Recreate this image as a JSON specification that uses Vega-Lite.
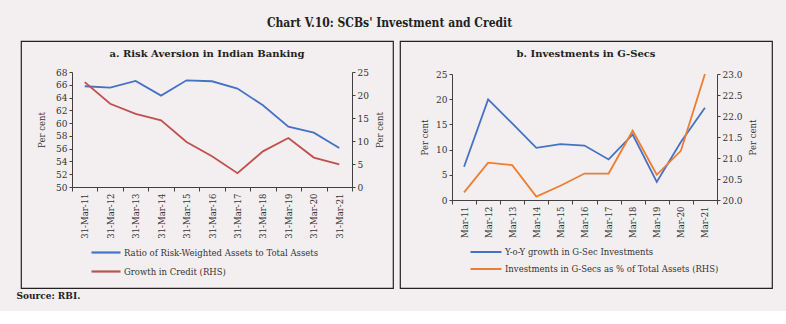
{
  "$schema": "https://vega.github.io/schema/vega-lite/v6.json",
  "background": "#f3eff0",
  "padding": {"left": 16, "right": 15, "top": 17, "bottom": 10},
  "title": {"text": "Chart V.10: SCBs' Investment and Credit", "font": "DejaVu Serif Condensed", "fontSize": 12, "fontWeight": "bold", "color": "#222222", "anchor": "middle", "offset": 10, "dx": -5},
  "bounds": "flush",
  "vconcat": [
    {
      "title": {"text": "Source: RBI.", "orient": "bottom", "anchor": "start", "font": "DejaVu Serif", "fontSize": 9, "fontWeight": "bold", "color": "#222222", "offset": 3},
      "spacing": 7,
      "bounds": "flush",
      "resolve": {"scale": {"color": "independent"}, "legend": {"color": "independent"}},
      "hconcat": [
        {
          "width": 372,
          "height": 247,
          "title": {"text": "a. Risk Aversion in Indian Banking", "font": "DejaVu Serif", "fontSize": 10, "fontWeight": "bold", "color": "#222222", "anchor": "middle", "offset": -18},
          "data": {"values": [
            {"date": "31-Mar-11", "rwa": 65.77, "credit": 22.8},
            {"date": "31-Mar-12", "rwa": 65.56, "credit": 18.1},
            {"date": "31-Mar-13", "rwa": 66.6, "credit": 15.9},
            {"date": "31-Mar-14", "rwa": 64.3, "credit": 14.5},
            {"date": "31-Mar-15", "rwa": 66.7, "credit": 9.8},
            {"date": "31-Mar-16", "rwa": 66.55, "credit": 6.7},
            {"date": "31-Mar-17", "rwa": 65.4, "credit": 3.0},
            {"date": "31-Mar-18", "rwa": 62.8, "credit": 7.75},
            {"date": "31-Mar-19", "rwa": 59.45, "credit": 10.65},
            {"date": "31-Mar-20", "rwa": 58.5, "credit": 6.4},
            {"date": "31-Mar-21", "rwa": 56.1, "credit": 4.9}
          ]},
          "encoding": {
            "x": {"field": "date", "type": "ordinal", "sort": null, "bandPosition": 0.5,
              "scale": {"type": "band", "range": [51, 331], "paddingInner": 0, "paddingOuter": 0},
              "axis": {"title": null, "labelAngle": -90, "labelFontSize": 8.5, "tickBand": "extent", "tickSize": 4, "offset": -101, "labelPadding": 2}}
          },
          "layer": [
            {
              "mark": {"type": "line", "strokeWidth": 1.8},
              "encoding": {
                "y": {"field": "rwa", "type": "quantitative",
                  "scale": {"domain": [50, 68], "range": [146, 31], "nice": false, "zero": false},
                  "axis": {"title": "Per cent", "values": [50, 52, 54, 56, 58, 60, 62, 64, 66, 68], "offset": -51, "titleAngle": 270, "titleX": -31, "titleY": 88.5, "titleAlign": "center", "titleBaseline": "middle"}},
                "color": {"datum": "Ratio of Risk-Weighted Assets to Total Assets", "type": "nominal",
                  "scale": {"domain": ["Ratio of Risk-Weighted Assets to Total Assets", "Growth in Credit (RHS)"], "range": ["#4472c4", "#c0504d"]},
                  "legend": {"orient": "none", "legendX": 69, "legendY": 203, "title": null, "symbolType": "stroke", "symbolSize": 841, "symbolStrokeWidth": 2.2, "labelLimit": 300, "clipHeight": 17, "rowPadding": 2, "padding": 0, "labelOffset": 2}}
              }
            },
            {
              "mark": {"type": "line", "strokeWidth": 1.8},
              "encoding": {
                "y": {"field": "credit", "type": "quantitative",
                  "scale": {"domain": [0, 25], "range": [146, 31], "nice": false},
                  "axis": {"title": "Per cent", "orient": "right", "values": [0, 5, 10, 15, 20, 25], "offset": -41, "titleAngle": 270, "titleX": 27, "titleY": 88.5, "titleAlign": "center", "titleBaseline": "middle"}},
                "color": {"datum": "Growth in Credit (RHS)", "type": "nominal"}
              }
            }
          ],
          "resolve": {"scale": {"y": "independent"}}
        },
        {
          "width": 372,
          "height": 247,
          "title": {"text": "b. Investments in G-Secs", "font": "DejaVu Serif", "fontSize": 10, "fontWeight": "bold", "color": "#222222", "anchor": "middle", "offset": -18},
          "data": {"values": [
            {"date": "Mar-11", "gsec": 6.6, "share": 20.18},
            {"date": "Mar-12", "gsec": 19.97, "share": 20.89},
            {"date": "Mar-13", "gsec": 15.2, "share": 20.83},
            {"date": "Mar-14", "gsec": 10.36, "share": 20.08},
            {"date": "Mar-15", "gsec": 11.1, "share": 20.34},
            {"date": "Mar-16", "gsec": 10.8, "share": 20.63},
            {"date": "Mar-17", "gsec": 8.05, "share": 20.63},
            {"date": "Mar-18", "gsec": 13.0, "share": 21.65},
            {"date": "Mar-19", "gsec": 3.6, "share": 20.6},
            {"date": "Mar-20", "gsec": 11.5, "share": 21.17},
            {"date": "Mar-21", "gsec": 18.3, "share": 23.0}
          ]},
          "encoding": {
            "x": {"field": "date", "type": "ordinal", "sort": null, "bandPosition": 0.5,
              "scale": {"type": "band", "range": [52, 317], "paddingInner": 0, "paddingOuter": 0},
              "axis": {"title": null, "labelAngle": -90, "labelFontSize": 8.5, "tickBand": "extent", "tickSize": 4, "offset": -88, "labelPadding": 2}}
          },
          "layer": [
            {
              "mark": {"type": "line", "strokeWidth": 1.8},
              "encoding": {
                "y": {"field": "gsec", "type": "quantitative",
                  "scale": {"domain": [0, 25], "range": [159, 33], "nice": false},
                  "axis": {"title": "Per cent", "values": [0, 5, 10, 15, 20, 25], "offset": -52, "titleAngle": 270, "titleX": -28, "titleY": 96, "titleAlign": "center", "titleBaseline": "middle"}},
                "color": {"datum": "Y-o-Y growth in G-Sec Investments", "type": "nominal",
                  "scale": {"domain": ["Y-o-Y growth in G-Sec Investments", "Investments in G-Secs as % of Total Assets (RHS)"], "range": ["#4472c4", "#ed7d31"]},
                  "legend": {"orient": "none", "legendX": 69, "legendY": 203.5, "title": null, "symbolType": "stroke", "symbolSize": 961, "symbolStrokeWidth": 2.2, "labelLimit": 300, "clipHeight": 15, "rowPadding": 2, "padding": 0, "labelOffset": 2}}
              }
            },
            {
              "mark": {"type": "line", "strokeWidth": 1.8},
              "encoding": {
                "y": {"field": "share", "type": "quantitative",
                  "scale": {"domain": [20, 23], "range": [159, 33], "nice": false, "zero": false},
                  "axis": {"title": "Per cent", "orient": "right", "format": ".1f", "values": [20, 20.5, 21, 21.5, 22, 22.5, 23], "offset": -55, "titleAngle": 270, "titleX": 35, "titleY": 96, "titleAlign": "center", "titleBaseline": "middle"}},
                "color": {"datum": "Investments in G-Secs as % of Total Assets (RHS)", "type": "nominal"}
              }
            }
          ],
          "resolve": {"scale": {"y": "independent"}}
        }
      ]
    }
  ],
  "config": {
    "view": {"stroke": "#222222", "strokeWidth": 1.2, "fill": "#f3eff0"},
    "axis": {"labelFont": "DejaVu Serif", "titleFont": "DejaVu Serif", "titleFontWeight": "normal", "labelColor": "#333333", "titleColor": "#333333", "domainColor": "#404040", "tickColor": "#404040", "grid": false, "tickSize": 3, "labelFontSize": 9, "titleFontSize": 8.5, "labelPadding": 2},
    "legend": {"labelFont": "DejaVu Serif", "labelFontSize": 8.5, "labelColor": "#333333"}
  }
}
